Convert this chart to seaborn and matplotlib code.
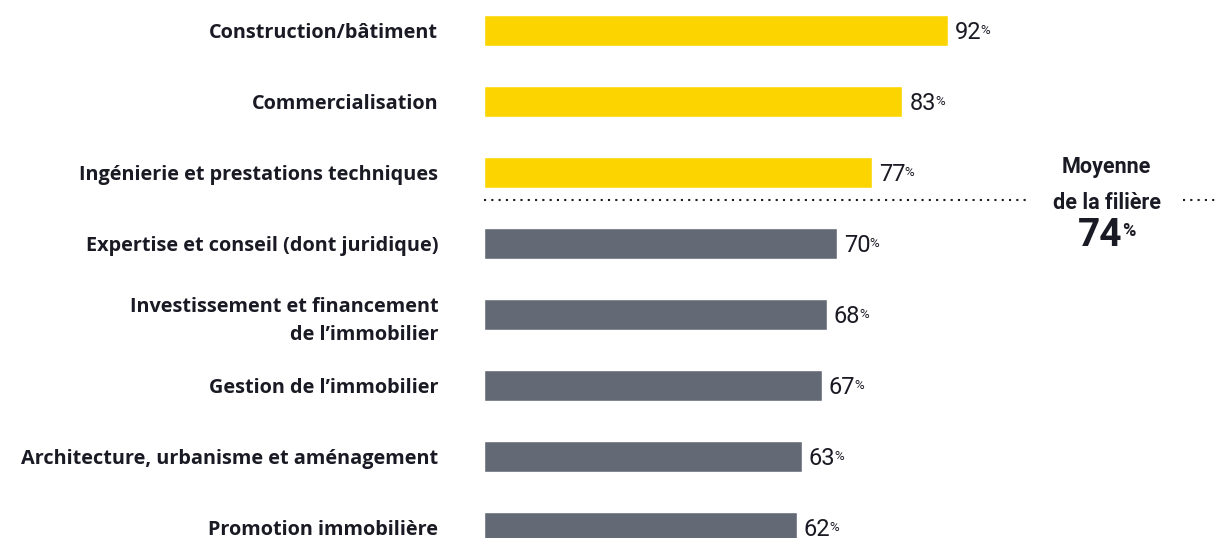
import matplotlib.pyplot as plt
import pandas as pd
import seaborn as sb

# data
categories = ["Construction/bâtiment",
              "Commercialisation",
              "Ingénierie et prestations techniques",
              "Expertise et conseil (dont juridique)",
              "Investissement et financement\nde l’immobilier",
              "Gestion de l’immobilier",
              "Architecture, urbanisme et aménagement",
              "Promotion immobilière"]
values = [92, 83, 77, 70, 68, 67, 63, 62]
average = 74

yellow = "#FCD500"
grey = "#646A75"
dark = "#1A1A24"

sb.set_style("white")
plt.rcParams['font.family'] = ['Roboto', 'DejaVu Sans']

df = pd.DataFrame({"category": categories, "value": values})
df["group"] = ["above" if v > average else "below" for v in values]

fig = plt.figure(figsize=(12.2, 5.38), dpi=100)
ax = fig.add_axes([484/1220, 0, 736/1220, 1])

sb.barplot(data=df, x="value", y="category", hue="group",
           palette={"above": yellow, "below": grey}, dodge=False,
           width=0.437, saturation=1, legend=False, ax=ax)

ax.set_xlim(0, 146)
ax.set_ylim(7.148, -0.430)
sb.despine(ax=ax, left=True, bottom=True)
ax.set_xticks([])
ax.set_xlabel("")
ax.set_ylabel("")
ax.tick_params(axis="y", length=0, pad=33)
for lab in ax.get_yticklabels():
    lab.set_family(['Open Sans', 'DejaVu Sans'])
    lab.set_fontsize(14.3)
    lab.set_fontweight("bold")
    lab.set_color(dark)
    lab.set_linespacing(1.5)

# value labels with small superscript %
for i, v in enumerate(values):
    t = ax.annotate(str(v), xy=(v, i), xytext=(5, -1.5), textcoords="offset points",
                    ha="left", va="center", fontsize=17, color=dark)
    ax.annotate("%", xy=(0.97, 0.88), xycoords=t, ha="left", va="top",
                fontsize=9.5, color=dark)

# average line between the bars
y_avg = 2.39
ax.axhline(y_avg, xmin=0, xmax=0.739, color=dark, lw=1.5, linestyle=(0, (1, 2.5)))
ax.axhline(y_avg, xmin=0.95, xmax=0.996, color=dark, lw=1.5, linestyle=(0, (1, 2.5)))

fig.text(0.907, 0.690, "Moyenne", ha="center", va="center",
         fontsize=15.5, fontweight="bold", color=dark)
fig.text(0.907, 0.623, "de la filière", ha="center", va="center",
         fontsize=15.5, fontweight="bold", color=dark)
t74 = fig.text(1122/1220, 0.562, str(average), ha="right", va="center",
               fontsize=28, fontweight="bold", color=dark)
ax.annotate("%", xy=(1.0, 0.88), xycoords=t74, ha="left", va="top",
            fontsize=13, fontweight="bold", color=dark)

fig.savefig("out.png", dpi=100)
